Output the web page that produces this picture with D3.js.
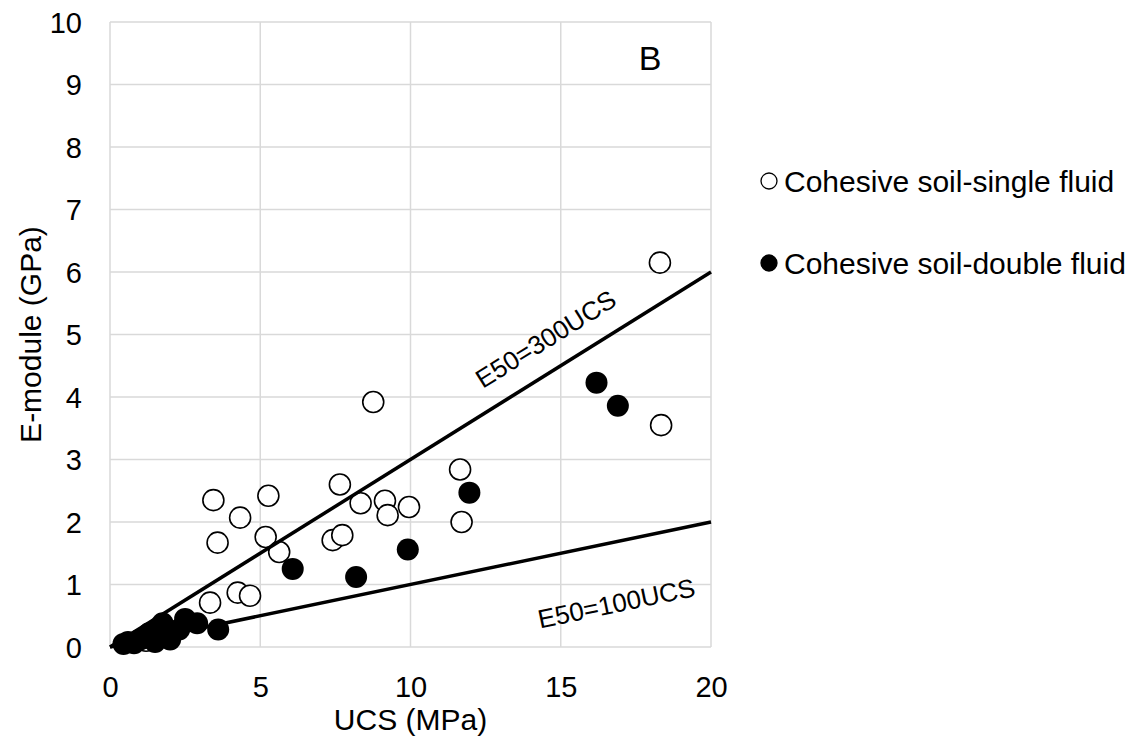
<!doctype html>
<html>
<head>
<meta charset="utf-8">
<script src="https://cdn.jsdelivr.net/npm/d3@7"></script>
<style>
body { margin: 0; background: #fff; }
text { font-family: "Liberation Sans", Arial, sans-serif; fill: #000; }
.grid line { stroke: #d9d9d9; stroke-width: 1.5; }
</style>
</head>
<body>
<script>
// single fluid (open circles): [UCS MPa, E GPa]
var singleFluid = [
  [3.44, 2.35], [5.27, 2.42], [4.33, 2.07], [3.58, 1.67], [5.18, 1.76],
  [5.63, 1.52], [7.65, 2.60], [8.34, 2.30], [9.15, 2.34], [9.24, 2.11],
  [9.95, 2.24], [7.41, 1.71], [7.73, 1.79], [4.25, 0.87], [4.66, 0.82],
  [3.33, 0.71], [8.76, 3.92], [11.65, 2.84], [11.70, 2.00], [18.34, 3.55],
  [18.30, 6.15], [1.2, 0.10], [1.6, 0.20]
];
// double fluid (filled circles)
var doubleFluid = [
  [6.08, 1.25], [8.19, 1.12], [9.91, 1.56], [11.96, 2.47], [16.19, 4.23],
  [16.90, 3.86], [3.60, 0.28], [2.90, 0.38], [2.50, 0.45], [2.30, 0.28],
  [2.00, 0.12], [1.75, 0.38], [1.60, 0.30], [1.50, 0.08], [1.30, 0.22],
  [1.20, 0.15], [1.00, 0.12], [0.80, 0.06], [0.60, 0.08], [0.45, 0.05]
];
var xTicks = [0, 5, 10, 15, 20];
var yTicks = [0, 1, 2, 3, 4, 5, 6, 7, 8, 9, 10];
var trendLines = [
  {label: "E50=300UCS", k: 0.3, at: [14.5, 4.93]},
  {label: "E50=100UCS", k: 0.1, at: [16.85, 0.70]}
];
var legendItems = [
  {label: "Cohesive soil-single fluid", fill: "#fff"},
  {label: "Cohesive soil-double fluid", fill: "#000"}
];

var W = 1138, H = 745;
var margin = {top: 22, left: 110, right: W - 711, bottom: H - 647};

var svg = d3.select("body").append("svg")
    .attr("width", W)
    .attr("height", H);

var x = d3.scaleLinear().domain([0, 20]).range([margin.left, W - margin.right]);
var y = d3.scaleLinear().domain([0, 10]).range([H - margin.bottom, margin.top]);

// grid
var grid = svg.append("g").attr("class", "grid");
grid.selectAll(".gy").data(yTicks).enter().append("line")
    .attr("x1", x(0)).attr("x2", x(20))
    .attr("y1", function(d) { return y(d); })
    .attr("y2", function(d) { return y(d); });
grid.selectAll(".gx").data(xTicks).enter().append("line")
    .attr("y1", y(0)).attr("y2", y(10))
    .attr("x1", function(d) { return x(d); })
    .attr("x2", function(d) { return x(d); });

// axes (labels only, Excel style)
var xAxis = svg.append("g")
    .attr("transform", "translate(0," + y(0) + ")")
    .call(d3.axisBottom(x).tickValues(xTicks).tickSize(0).tickPadding(29));
var yAxis = svg.append("g")
    .attr("transform", "translate(" + x(0) + ",0)")
    .call(d3.axisLeft(y).tickValues(yTicks).tickSize(0).tickPadding(28));
[xAxis, yAxis].forEach(function(a) {
  a.select(".domain").remove();
  a.selectAll("text").style("font-size", "29px")
    .style("font-family", '"Liberation Sans", Arial, sans-serif');
});
yAxis.selectAll("text").attr("dy", "0.36em");

svg.append("text")
    .attr("x", x(10)).attr("y", 730)
    .attr("text-anchor", "middle")
    .style("font-size", "30px")
    .text("UCS (MPa)");
svg.append("text")
    .attr("transform", "translate(41," + y(5) + ") rotate(-90)")
    .attr("text-anchor", "middle")
    .style("font-size", "30px")
    .text("E-module (GPa)");

// points
svg.selectAll(".single").data(singleFluid).enter().append("circle")
    .attr("cx", function(d) { return x(d[0]); })
    .attr("cy", function(d) { return y(d[1]); })
    .attr("r", 10.5)
    .attr("fill", "#fff").attr("stroke", "#000").attr("stroke-width", 1.6);
svg.selectAll(".double").data(doubleFluid).enter().append("circle")
    .attr("cx", function(d) { return x(d[0]); })
    .attr("cy", function(d) { return y(d[1]); })
    .attr("r", 11)
    .attr("fill", "#000");

// trend lines + rotated labels
trendLines.forEach(function(t) {
  svg.append("line")
    .attr("x1", x(0)).attr("y1", y(0))
    .attr("x2", x(20)).attr("y2", y(20 * t.k))
    .attr("stroke", "#000").attr("stroke-width", 3.5);
  var ang = Math.atan2(y(0) - y(20 * t.k), x(20) - x(0)) * 180 / Math.PI;
  svg.append("text")
    .attr("transform", "translate(" + x(t.at[0]) + "," + y(t.at[1]) + ") rotate(" + (-ang) + ")")
    .attr("text-anchor", "middle")
    .attr("dy", "0.35em")
    .style("font-size", "26px")
    .text(t.label);
});

svg.append("text")
    .attr("x", 650).attr("y", 70)
    .attr("text-anchor", "middle")
    .style("font-size", "34px")
    .text("B");

// legend
var leg = svg.selectAll(".leg").data(legendItems).enter().append("g")
    .attr("transform", function(d, i) { return "translate(769," + (181 + i * 82) + ")"; });
leg.append("circle").attr("r", 8)
    .attr("fill", function(d) { return d.fill; })
    .attr("stroke", "#000").attr("stroke-width", 1.3);
leg.append("text")
    .attr("x", 15).attr("dy", "0.36em")
    .style("font-size", "30px")
    .text(function(d) { return d.label; });
</script>
</body>
</html>
